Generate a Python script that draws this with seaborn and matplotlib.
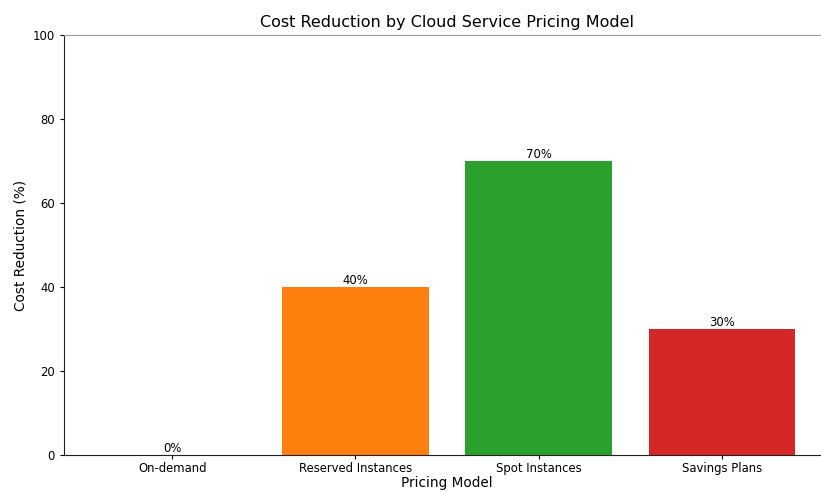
import pandas as pd
import seaborn as sns
import matplotlib.pyplot as plt

# --- Datos ---
models = ["On-demand", "Reserved Instances", "Spot Instances", "Savings Plans"]
reduction = [0, 40, 70, 30]
y_ticks = [0, 20, 40, 60, 80, 100]

df = pd.DataFrame({"Pricing Model": models, "Cost Reduction": reduction})

plt.rcParams["font.family"] = ["DejaVu Sans"]

fig = plt.figure(figsize=(8.21, 4.93), dpi=100)
ax = fig.add_axes([0.078, 0.077, 0.933, 0.852])

sns.barplot(data=df, x="Pricing Model", y="Cost Reduction", hue="Pricing Model",
            palette="tab10", saturation=1, width=0.8, legend=False, ax=ax)

# Etiquetas de valor encima de cada barra
for container in ax.containers:
    ax.bar_label(container, fmt="%.0f%%", fontsize=8.4, padding=0)

ax.set_xlim(-0.59, 3.59)
ax.set_ylim(0, 100)
ax.set_yticks(y_ticks)
ax.tick_params(axis="both", labelsize=8.4, length=3)
ax.tick_params(axis="x", pad=2)
ax.set_title("Cost Reduction by Cloud Service Pricing Model", fontsize=11.5)
ax.set_xlabel("Pricing Model", fontsize=9.8, labelpad=1)
ax.set_ylabel("Cost Reduction (%)", fontsize=9.8)
for side in ["left", "bottom"]:
    ax.spines[side].set_color("#222222")
for side in ["top", "right"]:
    ax.spines[side].set_color("#999999")

fig.savefig("out.png", dpi=100)
plt.close(fig)
